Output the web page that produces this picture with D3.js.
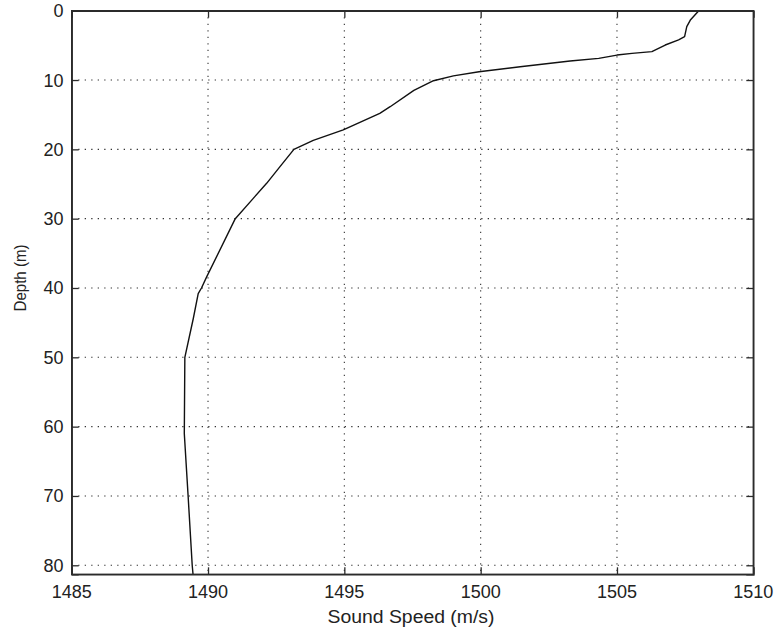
<!DOCTYPE html>
<html>
<head>
<meta charset="utf-8">
<script src="https://cdn.jsdelivr.net/npm/d3@7"></script>
<style>
  html, body { margin: 0; padding: 0; background: #fff; }
  svg { display: block; }
  text { font-family: "Liberation Sans", Arial, sans-serif; fill: #222; }
</style>
</head>
<body>
<svg id="chart" width="775" height="631"></svg>
<script>
// Sound speed profile (depth in m, sound speed in m/s)
const depths = [0, 1.3, 2.3, 3.75, 4.2, 4.95, 5.9, 6.15, 6.4, 6.87, 7.26, 8.08, 8.8, 9.4, 10.1,
                11.5, 13.85, 14.8, 17.2, 18.7, 20, 22.5, 24.9, 27.07, 30, 38.4, 40, 40.8,
                44.4, 50, 61, 70, 80, 81.3];
const speeds = [1508.0, 1507.7, 1507.56, 1507.48, 1507.26, 1506.77, 1506.28, 1505.55, 1505.0, 1504.33,
                1503.28, 1501.45, 1499.94, 1499.0, 1498.27, 1497.55, 1496.68, 1496.3, 1494.96,
                1493.86, 1493.15, 1492.64, 1492.15, 1491.66, 1491.0, 1489.95, 1489.76, 1489.64,
                1489.46, 1489.15, 1489.13, 1489.27, 1489.42, 1489.45];
const xTicks = [1485, 1490, 1495, 1500, 1505, 1510];
const yTicks = [0, 10, 20, 30, 40, 50, 60, 70, 80];
const xDomain = [1485, 1510];
const yDomain = [0, 81.3];
const xTitle = "Sound Speed (m/s)";
const yTitle = "Depth (m)";

const svg = d3.select("#chart");
const L = 71.7, R = 753.3, T = 10.7, B = 574.3;
const x = d3.scaleLinear().domain(xDomain).range([L, R]);
const y = d3.scaleLinear().domain(yDomain).range([T, B]);

const frameColor = "#2b2b2b";

// grid
const grid = svg.append("g").attr("stroke", "#333").attr("stroke-width", 1.1)
  .attr("stroke-dasharray", "1.3,5.2").attr("fill", "none");
grid.selectAll("line.gx").data(xTicks.slice(1, -1)).join("line")
  .attr("x1", d => x(d)).attr("x2", d => x(d)).attr("y1", T).attr("y2", B);
grid.selectAll("line.gy").data(yTicks.slice(1)).join("line")
  .attr("y1", d => y(d)).attr("y2", d => y(d)).attr("x1", L).attr("x2", R);

// data line
const line = d3.line().x(d => x(d[1])).y(d => y(d[0]));
svg.append("path")
  .datum(depths.map((d, i) => [d, speeds[i]]))
  .attr("d", line).attr("fill", "none").attr("stroke", "#111").attr("stroke-width", 1.4)
  .attr("stroke-linejoin", "round");

// axes with inward ticks
const tickLen = 7;
const axB = svg.append("g").attr("transform", `translate(0,${B})`)
  .call(d3.axisBottom(x).tickValues(xTicks).tickSize(-tickLen).tickPadding(0).tickFormat(""));
const axT = svg.append("g").attr("transform", `translate(0,${T})`)
  .call(d3.axisTop(x).tickValues(xTicks).tickSize(-tickLen).tickFormat(""));
const axL = svg.append("g").attr("transform", `translate(${L},0)`)
  .call(d3.axisLeft(y).tickValues(yTicks).tickSize(-tickLen).tickFormat(""));
const axR = svg.append("g").attr("transform", `translate(${R},0)`)
  .call(d3.axisRight(y).tickValues(yTicks).tickSize(-tickLen).tickFormat(""));
[axB, axT, axL, axR].forEach(a => {
  a.select(".domain").attr("stroke", frameColor).attr("stroke-width", 1.4);
  a.selectAll(".tick line").attr("stroke", frameColor).attr("stroke-width", 1.3);
});
// frame
svg.append("rect").attr("x", L).attr("y", T).attr("width", R - L).attr("height", B - T)
  .attr("fill", "none").attr("stroke", frameColor).attr("stroke-width", 1.4);

// tick labels
svg.append("g").selectAll("text").data(xTicks).join("text")
  .attr("x", d => x(d)).attr("y", 598).attr("text-anchor", "middle")
  .attr("font-size", 18).text(d => d);
svg.append("g").selectAll("text").data(yTicks).join("text")
  .attr("x", 63.5).attr("y", d => y(d)).attr("dy", "0.36em").attr("text-anchor", "end")
  .attr("font-size", 18).text(d => d);

// titles
svg.append("text").attr("x", 411).attr("y", 623).attr("text-anchor", "middle")
  .attr("font-size", 18).attr("textLength", 167).attr("lengthAdjust", "spacingAndGlyphs")
  .text(xTitle);
svg.append("text").attr("transform", "translate(25.5,278) rotate(-90)")
  .attr("text-anchor", "middle").attr("font-size", 16)
  .attr("textLength", 67).attr("lengthAdjust", "spacingAndGlyphs")
  .text(yTitle);
</script>
</body>
</html>
